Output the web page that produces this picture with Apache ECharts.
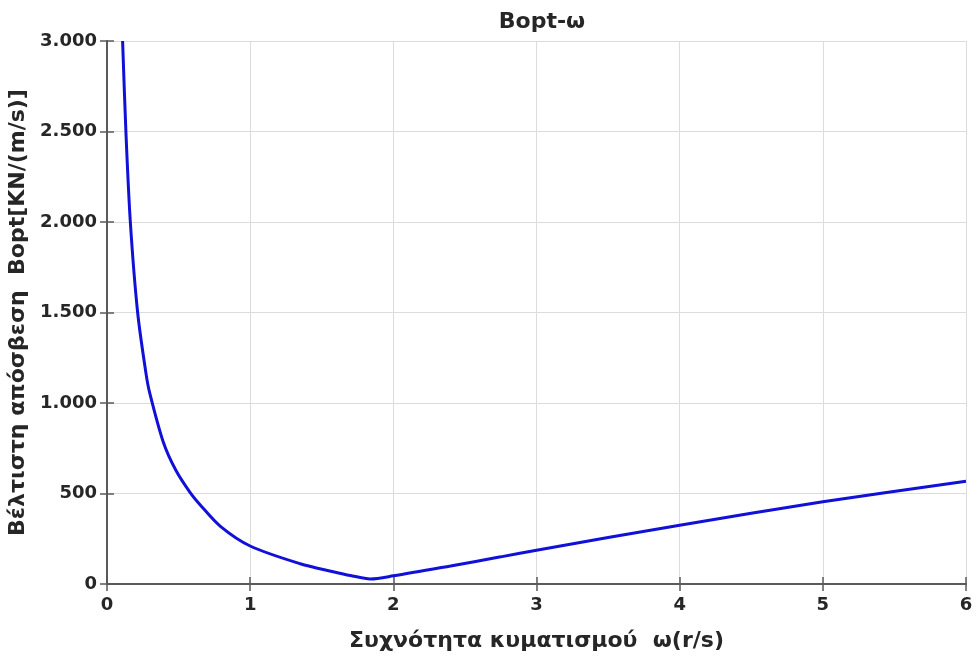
<!DOCTYPE html>
<html>
<head>
<meta charset="utf-8">
<script src="https://cdn.jsdelivr.net/npm/echarts@6/dist/echarts.min.js"></script>
<style>
  html, body { margin: 0; padding: 0; background: #fff; }
  #chart { width: 976px; height: 657px; }
</style>
</head>
<body>
<div id="chart"></div>
<script>
// Wave frequency ω (r/s)
const omega = [0.109, 0.132, 0.163, 0.214, 0.272, 0.297, 0.393, 0.48, 0.581, 0.65, 0.79, 1.0, 1.35, 1.58, 1.70, 1.84, 2.0, 2.4, 2.75, 3.0, 4.0, 5.0, 6.0];
// Optimal damping Bopt [KN/(m/s)]
const bopt = [3000, 2500, 2000, 1500, 1165, 1060, 785, 630, 505, 438, 320, 210, 112, 68, 47, 28, 45, 100, 150, 187, 325, 454, 568];

const xTicks = [0, 1, 2, 3, 4, 5, 6];
const yTicks = [0, 500, 1000, 1500, 2000, 2500, 3000];

const fmtThousands = v => String(v).replace(/\B(?=(\d{3})+(?!\d))/g, '.');

const chart = echarts.init(document.getElementById('chart'), null, { renderer: 'canvas' });
const axisColor = '#5a5a5a';
const textColor = '#262626';
const fontFam = 'DejaVu Sans, sans-serif';

chart.setOption({
  animation: false,
  backgroundColor: '#fff',
  title: {
    text: 'Bopt-ω',
    left: 537, top: 6, textAlign: 'center',
    textStyle: { fontFamily: fontFam, fontSize: 22, fontWeight: 'bold', color: textColor }
  },
  grid: { left: 107, right: 10, top: 41, bottom: 73, outerBoundsMode: 'none', containLabel: false },
  xAxis: [{
    type: 'value', min: xTicks[0], max: xTicks[xTicks.length - 1], interval: 1,
    name: 'Συχνότητα κυματισμού  ω(r/s)', nameLocation: 'middle', nameGap: 46,
    nameTextStyle: { fontFamily: fontFam, fontSize: 22, fontWeight: 'bold', color: textColor },
    axisLine: { lineStyle: { color: axisColor, width: 2 } },
    axisTick: { inside: true, length: 7, lineStyle: { color: axisColor, width: 1.5 } },
    axisLabel: { fontFamily: fontFam, fontSize: 18, fontWeight: 'bold', color: textColor, margin: 12 },
    splitLine: { show: true, lineStyle: { color: '#dcdcdc', width: 1 } }
  }, {
    type: 'value', position: 'top', min: xTicks[0], max: xTicks[xTicks.length - 1], interval: 1,
    axisLine: { show: true, lineStyle: { color: axisColor, width: 2 } },
    axisTick: { inside: true, length: 7, lineStyle: { color: axisColor, width: 1.5 } },
    axisLabel: { show: false }, splitLine: { show: false }
  }],
  yAxis: [{
    type: 'value', min: yTicks[0], max: yTicks[yTicks.length - 1], interval: 500,
    name: 'Βέλτιστη απόσβεση  Bopt[KN/(m/s)]', nameLocation: 'middle', nameGap: 77, nameRotate: 90,
    nameTextStyle: { fontFamily: fontFam, fontSize: 22, fontWeight: 'bold', color: textColor },
    axisLine: { show: true, lineStyle: { color: axisColor, width: 2 } },
    axisTick: { show: true, inside: true, length: 7, lineStyle: { color: axisColor, width: 1.5 } },
    axisLabel: { fontFamily: fontFam, fontSize: 18, fontWeight: 'bold', color: textColor, margin: 10,
      formatter: v => fmtThousands(v) },
    splitLine: { show: true, lineStyle: { color: '#dcdcdc', width: 1 } }
  }, {
    type: 'value', position: 'right', min: yTicks[0], max: yTicks[yTicks.length - 1], interval: 500,
    axisLine: { show: true, lineStyle: { color: axisColor, width: 2 } },
    axisTick: { show: true, inside: true, length: 7, lineStyle: { color: axisColor, width: 1.5 } },
    axisLabel: { show: false }, splitLine: { show: false }
  }],
  series: [{
    type: 'line',
    data: omega.map((w, i) => [w, bopt[i]]),
    smooth: 0.3,
    symbol: 'none',
    clip: true,
    lineStyle: { color: '#1010d8', width: 3 }
  }]
});
</script>
</body>
</html>
